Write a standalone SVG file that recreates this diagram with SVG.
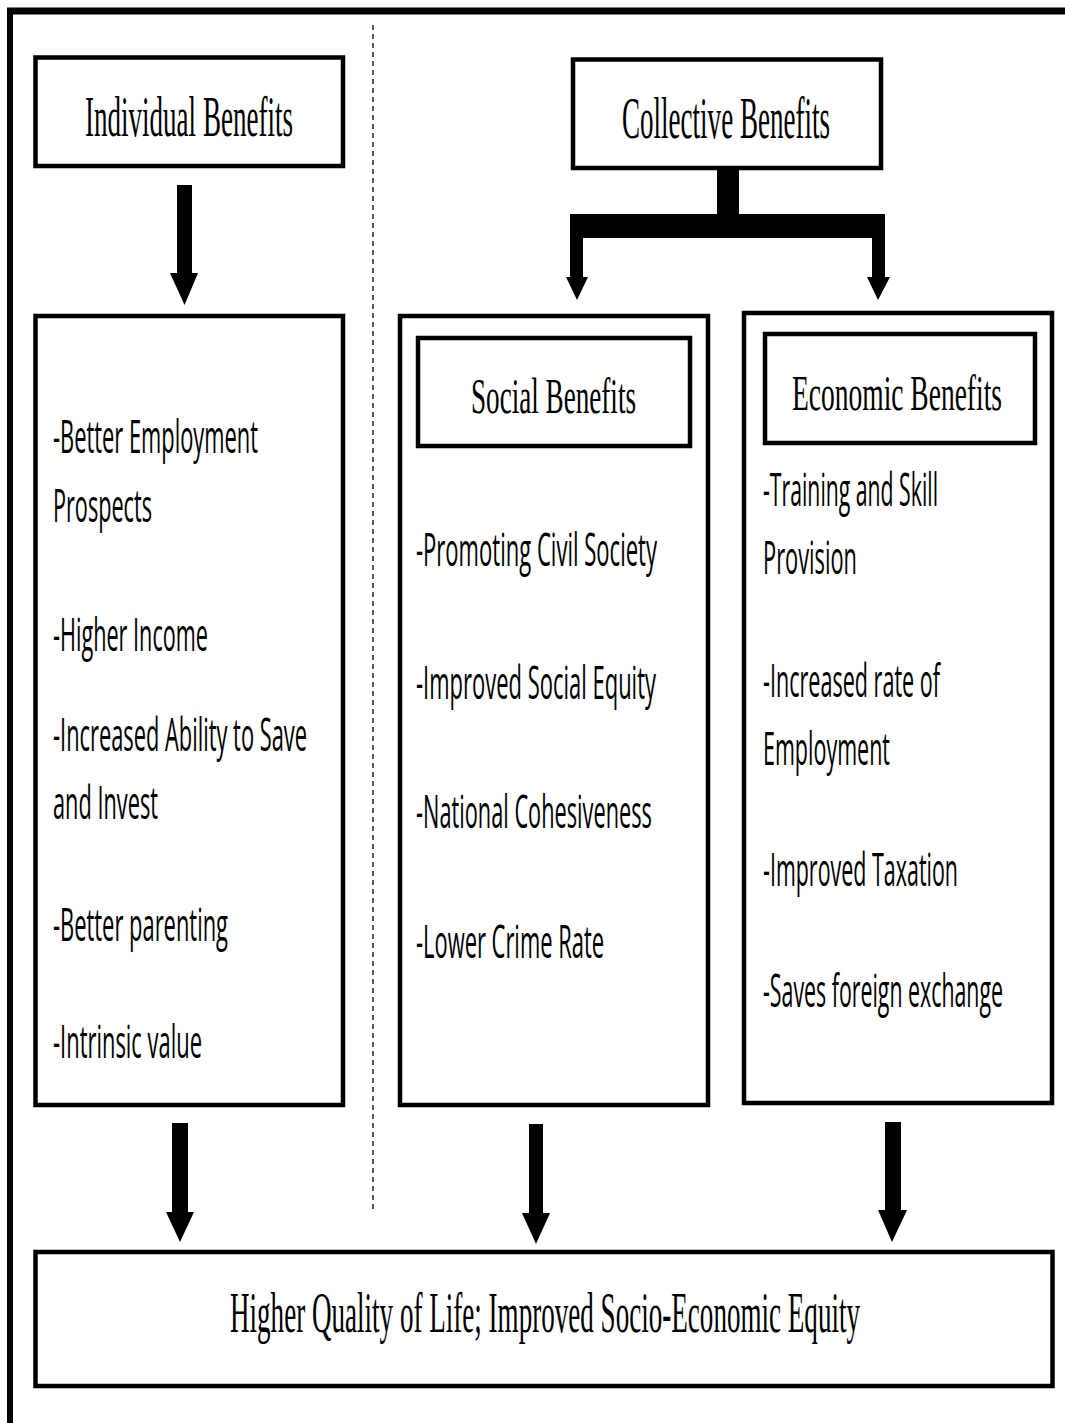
<svg xmlns="http://www.w3.org/2000/svg" width="1065" height="1423" viewBox="0 0 1065 1423">
  <style>
    .box { fill: #ffffff; stroke: #000000; stroke-width: 4.5; }
    .title { font-family: "Liberation Serif", "Times New Roman", serif; fill: #000000; }
    .item { font-family: "Open Sans", "Noto Sans", "Liberation Sans", sans-serif; font-size: 46px; fill: #000000; }
    .arrow { fill: #000000; stroke: none; }
  </style>
  <rect x="0" y="0" width="1065" height="1423" fill="#ffffff"/>

  <!-- outer frame: top and left rules -->
  <g id="frame">
    <line x1="7" y1="11" x2="1065" y2="11" stroke="#000000" stroke-width="7"/>
    <line x1="10" y1="8" x2="10" y2="1423" stroke="#000000" stroke-width="6"/>
    <line x1="373" y1="25" x2="373" y2="1212" stroke="#000000" stroke-width="1.3" stroke-dasharray="5 4"/>
  </g>

  <g id="individual-benefits">
    <rect class="box" x="35.5" y="57.5" width="307.5" height="108.5"/>
    <text class="title" x="85" y="136" font-size="58" textLength="208" lengthAdjust="spacingAndGlyphs">Individual Benefits</text>
  </g>

  <g id="collective-benefits">
    <rect class="box" x="573" y="59.5" width="308" height="108.5"/>
    <text class="title" x="622" y="138" font-size="60" textLength="208" lengthAdjust="spacingAndGlyphs">Collective Benefits</text>
  </g>

  <g id="individual-list">
    <rect class="box" x="35.5" y="316" width="307.5" height="789"/>
    <text class="item" x="53" y="453" textLength="205" lengthAdjust="spacingAndGlyphs">-Better Employment</text>
    <text class="item" x="53" y="522" textLength="99" lengthAdjust="spacingAndGlyphs">Prospects</text>
    <text class="item" x="53" y="651" textLength="155" lengthAdjust="spacingAndGlyphs">-Higher Income</text>
    <text class="item" x="53" y="751" textLength="254" lengthAdjust="spacingAndGlyphs">-Increased Ability to Save</text>
    <text class="item" x="53" y="819" textLength="105" lengthAdjust="spacingAndGlyphs">and Invest</text>
    <text class="item" x="53" y="941" textLength="175" lengthAdjust="spacingAndGlyphs">-Better parenting</text>
    <text class="item" x="53" y="1058" textLength="149" lengthAdjust="spacingAndGlyphs">-Intrinsic value</text>
  </g>

  <g id="social-benefits">
    <rect class="box" x="400" y="316" width="308" height="789"/>
    <rect class="box" x="418" y="338" width="272" height="108"/>
    <text class="title" x="471" y="413" font-size="50" textLength="165" lengthAdjust="spacingAndGlyphs">Social Benefits</text>
    <text class="item" x="416" y="566" textLength="241" lengthAdjust="spacingAndGlyphs">-Promoting Civil Society</text>
    <text class="item" x="416" y="699" textLength="240" lengthAdjust="spacingAndGlyphs">-Improved Social Equity</text>
    <text class="item" x="416" y="828" textLength="236" lengthAdjust="spacingAndGlyphs">-National Cohesiveness</text>
    <text class="item" x="416" y="958" textLength="188" lengthAdjust="spacingAndGlyphs">-Lower Crime Rate</text>
  </g>

  <g id="economic-benefits">
    <rect class="box" x="744" y="313" width="308" height="790"/>
    <rect class="box" x="765" y="334" width="270" height="109"/>
    <text class="title" x="792" y="410" font-size="50" textLength="210" lengthAdjust="spacingAndGlyphs">Economic Benefits</text>
    <text class="item" x="763" y="506" textLength="175" lengthAdjust="spacingAndGlyphs">-Training and Skill</text>
    <text class="item" x="763" y="574" textLength="94" lengthAdjust="spacingAndGlyphs">Provision</text>
    <text class="item" x="763" y="697" textLength="177" lengthAdjust="spacingAndGlyphs">-Increased rate of</text>
    <text class="item" x="763" y="765" textLength="127" lengthAdjust="spacingAndGlyphs">Employment</text>
    <text class="item" x="763" y="886" textLength="195" lengthAdjust="spacingAndGlyphs">-Improved Taxation</text>
    <text class="item" x="763" y="1007" textLength="240" lengthAdjust="spacingAndGlyphs">-Saves foreign exchange</text>
  </g>

  <g id="outcome">
    <rect class="box" x="35.5" y="1252" width="1017" height="134"/>
    <text class="title" x="230" y="1332" font-size="57" textLength="630" lengthAdjust="spacingAndGlyphs">Higher Quality of Life; Improved Socio-Economic Equity</text>
  </g>

  <!-- block arrows between the boxes -->
  <g id="connectors">
    <!-- individual benefits down to its list -->
    <polygon class="arrow" points="177,185 192,185 192,273 198,273 184.5,305 170,273 177,273"/>
    <!-- collective benefits split into social and economic -->
    <path class="arrow" d="M717,170 H739 V214 H885 V277 H890 L878,300 L867,277 H872 V238 H583 V277 H588 L577,300 L566,277 H570 V214 H717 Z"/>
    <!-- three columns down to the outcome -->
    <polygon class="arrow" points="172,1123 188,1123 188,1212 194,1212 180,1242 166,1212 172,1212"/>
    <polygon class="arrow" points="529,1124 543,1124 543,1213 550,1213 536,1244 522,1213 529,1213"/>
    <polygon class="arrow" points="885,1122 901,1122 901,1210 907,1210 892,1242 878,1210 885,1210"/>
  </g>
</svg>
